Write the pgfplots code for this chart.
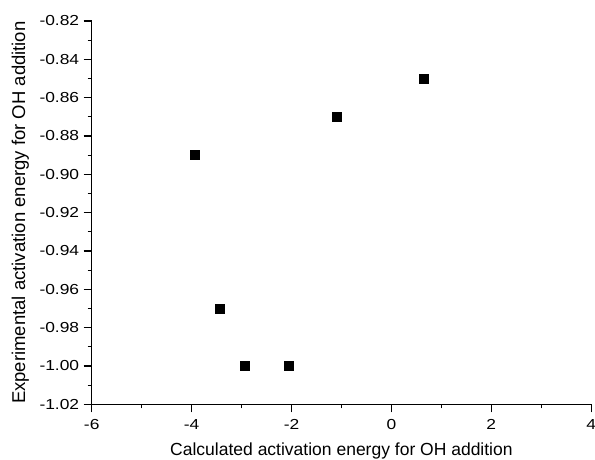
\documentclass[border=0pt]{standalone}
\usepackage{pgfplots}
\pgfplotsset{compat=1.18}
\usepackage{fontspec}
\setmainfont{Liberation Sans}
\newfontfamily\tickfont[FakeStretch=1.2]{Liberation Sans}
\begin{document}
\begin{tikzpicture}
\useasboundingbox (0,0) rectangle (595pt,460pt);
\begin{axis}[
  scale only axis,
  width=499.5pt, height=383.3pt,
  at={(91.7pt,55.7pt)}, anchor=south west,
  xmin=-6, xmax=4, ymin=-1.02, ymax=-0.82,
  axis x line*=bottom, axis y line*=left,
  axis line style={line width=1.3pt,-},
  xtick={-6,-4,-2,0,2,4},
  xticklabels={-6,-4,-2,0,2,4},
  minor xtick={-5,-3,-1,1,3},
  ytick={-1.02,-1.00,-0.98,-0.96,-0.94,-0.92,-0.90,-0.88,-0.86,-0.84,-0.82},
  yticklabels={-1.02,-1.00,-0.98,-0.96,-0.94,-0.92,-0.90,-0.88,-0.86,-0.84,-0.82},
  minor ytick={-1.01,-0.99,-0.97,-0.95,-0.93,-0.91,-0.89,-0.87,-0.85,-0.83},
  tick align=outside,
  major tick length=8pt, minor tick length=4pt,
  tick style={line width=1.2pt,black},
  tick label style={font=\tickfont\fontsize{14.5}{16}\selectfont},
  xticklabel style={yshift=-4pt},
  yticklabel style={xshift=-1pt},
  xlabel={Calculated activation energy for OH addition},
  ylabel={Experimental activation energy for OH addition},
  xlabel style={font=\fontsize{17.5}{19}\selectfont, at={(axis description cs:0.5,0)}, anchor=base, yshift=-51pt},
  ylabel style={font=\fontsize{18.5}{20}\selectfont, at={(axis description cs:-0.1335,0.5)}, anchor=base},
  clip=false,
]
\addplot[only marks, mark=square*, mark size=4.5pt, black] coordinates {
  (-3.93,-0.890)
  (-1.09,-0.870)
  (0.64,-0.850)
  (-3.43,-0.970)
  (-2.94,-1.000)
  (-2.06,-1.000)
};
\end{axis}
\end{tikzpicture}
\end{document}
